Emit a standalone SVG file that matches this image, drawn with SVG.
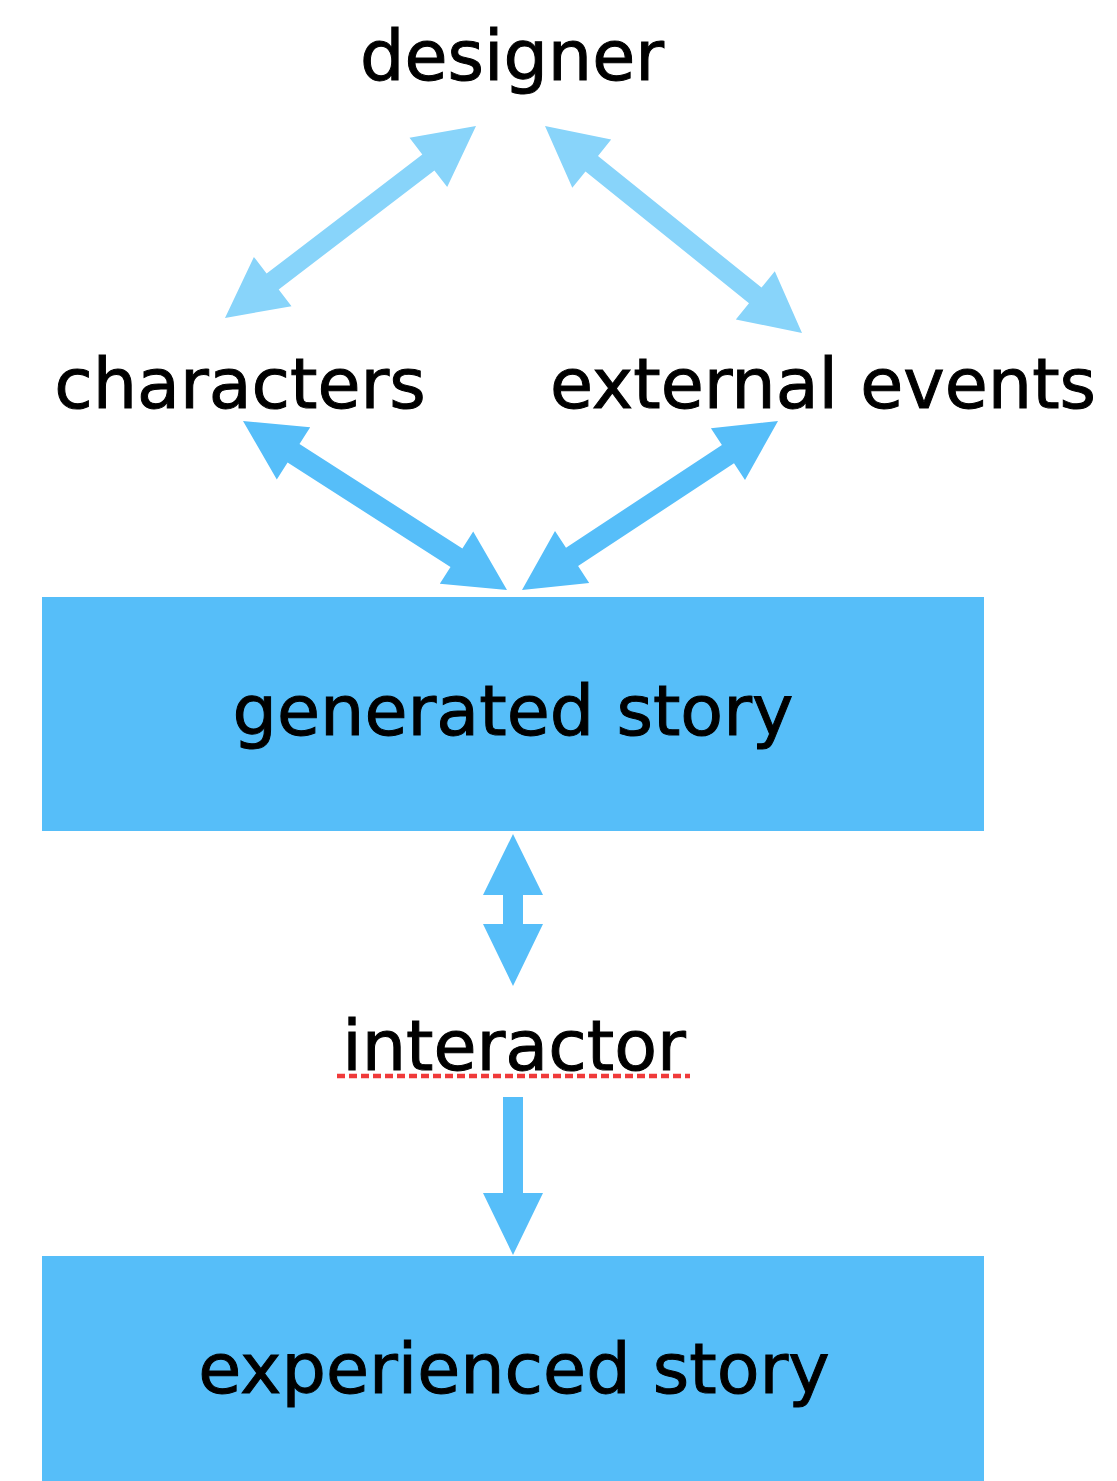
<svg xmlns="http://www.w3.org/2000/svg" width="1117" height="1481" viewBox="0 0 1117 1481">
  <style>
    .label { font-family: "DejaVu Sans", "Open Sans", sans-serif; font-size: 70px; fill: #000; stroke: #000; stroke-width: 1; text-anchor: middle; }
    .box { fill: #56bef9; }
    .light { fill: #88d4fa; }
    .dark { fill: #56bef9; }
    .squiggle { stroke: #f03a3a; stroke-width: 4.5; stroke-dasharray: 8 4; fill: none; }
  </style>
  <rect width="1117" height="1481" fill="#ffffff"/>

  <g id="designer">
    <text class="label" x="512" y="80">designer</text>
  </g>

  <g id="characters">
    <text class="label" x="240" y="408">characters</text>
  </g>

  <g id="external-events">
    <text class="label" x="823" y="408">external events</text>
  </g>

  <g id="generated-story">
    <rect class="box" x="42" y="597" width="942" height="234"/>
    <text class="label" x="513" y="735">generated story</text>
  </g>

  <g id="interactor">
    <text class="label" x="514" y="1070">interactor</text>
    <line class="squiggle" x1="337" y1="1076" x2="690" y2="1076"/>
  </g>

  <g id="experienced-story">
    <rect class="box" x="42" y="1256" width="942" height="225"/>
    <text class="label" x="514" y="1393">experienced story</text>
  </g>

  <g id="connectors">
    <!-- designer <-> characters -->
    <polygon class="light" points="476,126 447.2,187.1 434.4,170.4 278.7,289.5 291.5,306.2 225,318 253.9,256.9 266.6,273.6 422.3,154.5 409.5,137.8"/>
    <!-- designer <-> external events -->
    <polygon class="light" points="545,126 572.3,187.8 585.5,171.4 749,303.2 735.8,319.5 802,333 774.8,271.3 761.5,287.6 598,155.9 611.2,139.5"/>
    <!-- characters <-> generated story -->
    <polygon class="dark" points="243,421 276.8,479.4 287.6,462.6 450.5,566.9 439.8,583.8 507,590 473.2,531.6 462.4,548.4 299.5,444.1 310.2,427.2"/>
    <!-- external events <-> generated story -->
    <polygon class="dark" points="778,421 710.9,428.2 721.9,444.9 566,547.8 555,531.1 522,590 589.2,582.9 578.1,566.1 734,463.2 745,480"/>
    <!-- generated story <-> interactor -->
    <polygon class="dark" points="513,834 543,895 523,895 523,924 543,924 513,986 483,924 503,924 503,895 483,895"/>
    <!-- interactor -> experienced story -->
    <polygon class="dark" points="503,1097 523,1097 523,1193 543,1193 513,1255 483,1193 503,1193"/>
  </g>
</svg>
